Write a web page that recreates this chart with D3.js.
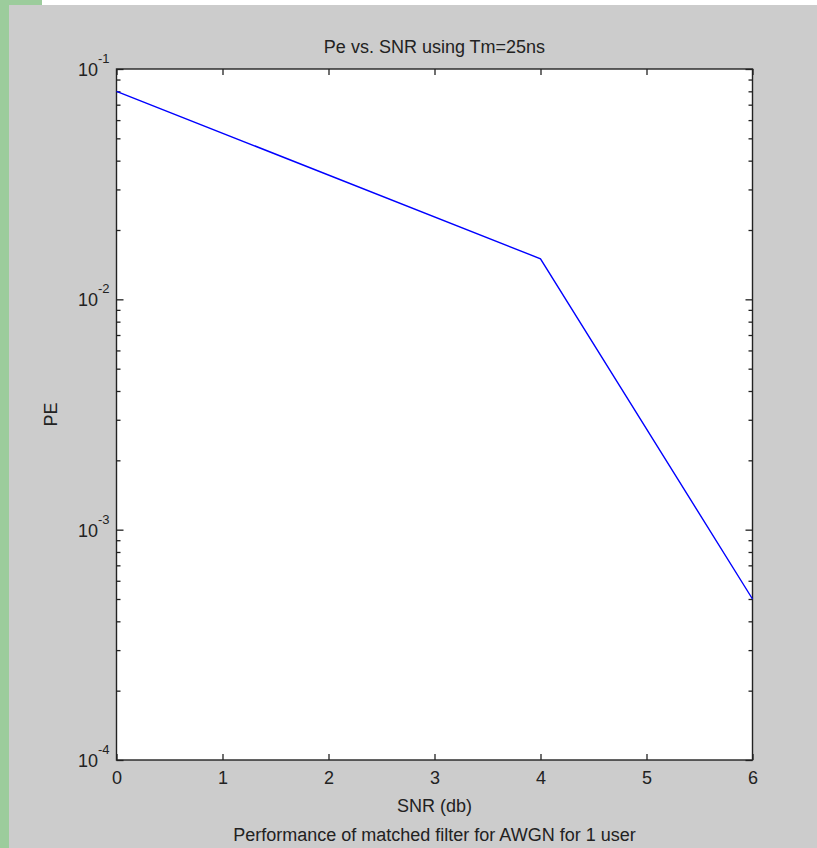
<!DOCTYPE html>
<html>
<head>
<meta charset="utf-8">
<script src="https://cdn.jsdelivr.net/npm/d3@7"></script>
<style>
  body { margin: 0; background: #fff; }
  svg { display: block; }
  text { font-family: "Liberation Sans", Arial, Helvetica, sans-serif; fill: #222; }
</style>
</head>
<body>
<div id="chart"></div>
<script>
// data
const snr = [0, 4, 6];
const pe = [0.08, 0.015, 0.0005];
const xTicks = [0, 1, 2, 3, 4, 5, 6];
const yMajor = [1e-4, 1e-3, 1e-2, 1e-1];
const yExp = [-4, -3, -2, -1];
const titleText = "Pe vs. SNR using Tm=25ns";
const xLabel = "SNR (db)";
const yLabel = "PE";
const subLabel = "Performance of matched filter for AWGN for 1 user";

const W = 817, H = 848;
const plotL = 116.5, plotR = 752.5, plotT = 69, plotB = 760;

const svg = d3.select("#chart").append("svg")
  .attr("width", W).attr("height", H);

// figure background (green strip + grey figure)
svg.append("rect").attr("x", 0).attr("y", 0).attr("width", W).attr("height", H).attr("fill", "#fff");
svg.append("rect").attr("x", 0).attr("y", 0).attr("width", 42).attr("height", 5).attr("fill", "#9ccc9c");
svg.append("rect").attr("x", 0).attr("y", 0).attr("width", 9).attr("height", H).attr("fill", "#9ccc9c");
svg.append("rect").attr("x", 9).attr("y", 5).attr("width", W - 9).attr("height", H - 5).attr("fill", "#cccccc");

// plot area
svg.append("rect").attr("x", plotL).attr("y", plotT)
  .attr("width", plotR - plotL).attr("height", plotB - plotT).attr("fill", "#fff");

const x = d3.scaleLinear().domain([0, 6]).range([plotL, plotR]);
const y = d3.scaleLog().domain([1e-4, 1e-1]).range([plotB, plotT]);

// minor ticks for log axis
const yMinor = [];
yMajor.slice(0, 3).forEach(d => {
  for (let k = 2; k <= 9; k++) yMinor.push(d * k);
});

function styleAxis(g) {
  g.select(".domain").remove();
  g.selectAll(".tick line").attr("stroke", "#222").attr("stroke-width", 1.3);
}

// bottom x axis with labels
svg.append("g")
  .attr("transform", `translate(0,${plotB})`)
  .call(d3.axisBottom(x).tickValues(xTicks).tickSize(-6).tickPadding(11).tickFormat(d3.format("d")))
  .call(styleAxis)
  .selectAll("text").style("font-size", "18px").attr("fill", "#222")
  .style("font-family", "'Liberation Sans', Arial, sans-serif");

// top x axis, ticks only
svg.append("g")
  .attr("transform", `translate(0,${plotT})`)
  .call(d3.axisTop(x).tickValues(xTicks).tickSize(-6).tickFormat(""))
  .call(styleAxis);

// left y axis major + minor
svg.append("g")
  .attr("transform", `translate(${plotL},0)`)
  .call(d3.axisLeft(y).tickValues(yMajor).tickSize(-7).tickFormat(""))
  .call(styleAxis);
svg.append("g")
  .attr("transform", `translate(${plotL},0)`)
  .call(d3.axisLeft(y).tickValues(yMinor).tickSize(-4).tickFormat(""))
  .call(styleAxis);

// right y axis major + minor
svg.append("g")
  .attr("transform", `translate(${plotR},0)`)
  .call(d3.axisRight(y).tickValues(yMajor).tickSize(-7).tickFormat(""))
  .call(styleAxis);
svg.append("g")
  .attr("transform", `translate(${plotR},0)`)
  .call(d3.axisRight(y).tickValues(yMinor).tickSize(-4).tickFormat(""))
  .call(styleAxis);

// y tick labels as 10^n
const yLab = svg.append("g");
yMajor.forEach((d, i) => {
  yLab.append("text")
    .attr("x", 98)
    .attr("y", y(d) + 7)
    .attr("text-anchor", "end")
    .style("font-size", "18px")
    .text("10");
  yLab.append("text")
    .attr("x", 98)
    .attr("y", y(d) - 6)
    .attr("text-anchor", "start")
    .style("font-size", "13px")
    .text(yExp[i]);
});

// box
svg.append("rect").attr("x", plotL).attr("y", plotT)
  .attr("width", plotR - plotL).attr("height", plotB - plotT)
  .attr("fill", "none").attr("stroke", "#222").attr("stroke-width", 1.4);

// data line
const line = d3.line()
  .x((d, i) => x(snr[i]))
  .y(d => y(d));
svg.append("path")
  .datum(pe)
  .attr("d", line)
  .attr("fill", "none")
  .attr("stroke", "#0000ff")
  .attr("stroke-width", 1.4);

// texts
const cx = (plotL + plotR) / 2;
svg.append("text").attr("x", cx).attr("y", 53).attr("text-anchor", "middle")
  .style("font-size", "18px").text(titleText);
svg.append("text").attr("x", cx).attr("y", 812).attr("text-anchor", "middle")
  .style("font-size", "18px").text(xLabel);
svg.append("text").attr("x", cx).attr("y", 841).attr("text-anchor", "middle")
  .style("font-size", "18px").text(subLabel);
svg.append("text")
  .attr("transform", `translate(57,${(plotT + plotB) / 2}) rotate(-90)`)
  .attr("text-anchor", "middle")
  .style("font-size", "18px").text(yLabel);
</script>
</body>
</html>
